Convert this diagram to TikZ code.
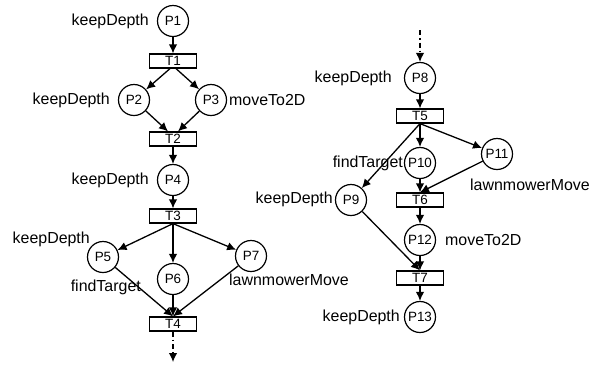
\documentclass[tikz,border=0pt]{standalone}
\usepackage{fontspec}
\setmainfont{Liberation Sans}
\usetikzlibrary{arrows.meta}
\begin{document}
\begin{tikzpicture}[x=1bp,y=-1bp,
  place/.style={circle, draw, minimum size=31bp, inner sep=0pt, line width=1.2bp,
                font=\fontsize{13.5}{14}\selectfont},
  trans/.style={draw, rectangle, minimum width=47bp, minimum height=14bp, inner sep=0pt,
                line width=1.2bp, font=\fontsize{13.5}{14}\selectfont},
  lbl/.style={font=\fontsize{16}{17}\selectfont, inner sep=0pt},
  arc/.style={-{Latex[length=9bp,width=8.5bp]}, line width=1.3bp},
  dasharc/.style={arc, dash pattern=on 5bp off 3bp on 1.5bp off 3bp}]
\useasboundingbox (0,0) rectangle (590,366);

% left net
\node[place] (P1) at (173,21) {P1};
\node[trans] (T1) at (173,61) {T1};
\node[place] (P2) at (134,100) {P2};
\node[place] (P3) at (211,100) {P3};
\node[trans] (T2) at (173,139) {T2};
\node[place] (P4) at (173,180) {P4};
\node[trans] (T3) at (173,216) {T3};
\node[place] (P5) at (103,257) {P5};
\node[place] (P6) at (173,279) {P6};
\node[place] (P7) at (251,256) {P7};
\node[trans] (T4) at (173,324) {T4};
\coordinate (out4) at (173,362);

\node[lbl, anchor=east] (l1) at (149,21) {keepDepth};
\node[lbl, anchor=east] (l2) at (110,100) {keepDepth};
\node[lbl, anchor=west] (l3) at (229,100) {moveTo2D};
\node[lbl, anchor=east] (l4) at (149,180) {keepDepth};
\node[lbl, anchor=east] (l5) at (90,239) {keepDepth};
\node[lbl, anchor=east] (l6) at (141,287) {findTarget};
\node[lbl, anchor=west] (l7) at (229,280) {lawnmowerMove};

\draw[arc] (P1) -- (T1);
\draw[arc] ([xshift=-3bp]T1.south) -- (P2);
\draw[arc] ([xshift=3bp]T1.south) -- (P3);
\draw[arc] (P2) -- ([xshift=-5bp]T2.north);
\draw[arc] (P3) -- ([xshift=5bp]T2.north);
\draw[arc] (T2) -- (P4);
\draw[arc] (P4) -- (T3);
\draw[arc] (T3.south) -- (P5);
\draw[arc] (T3.south) -- (P6);
\draw[arc] (T3.south) -- (P7);
\draw[arc] (P5) -- (T4.north);
\draw[arc] (P6) -- (T4.north);
\draw[arc] (P7) -- (T4.north);
\draw[dasharc] (T4) -- (out4);

% right net
\coordinate (in8) at (420,30);
\node[place] (P8) at (420,78) {P8};
\node[trans] (T5) at (420,116) {T5};
\node[place] (P9) at (351,200) {P9};
\node[place] (P10) at (420,163) {P10};
\node[place] (P11) at (497,154) {P11};
\node[trans] (T6) at (420,200) {T6};
\node[place] (P12) at (420,240) {P12};
\node[trans] (T7) at (420,278) {T7};
\node[place] (P13) at (420,317) {P13};

\node[lbl, anchor=east] (r8) at (392,78) {keepDepth};
\node[lbl, anchor=east] (r10) at (403,163) {findTarget};
\node[lbl, anchor=west] (r11) at (470,185) {lawnmowerMove};
\node[lbl, anchor=east] (r9) at (333,199) {keepDepth};
\node[lbl, anchor=west] (r12) at (445,240) {moveTo2D};
\node[lbl, anchor=east] (r13) at (400,317) {keepDepth};

\draw[dasharc] (in8) -- (P8);
\draw[arc] (P8) -- (T5);
\draw[arc] (T5.south) -- (P9);
\draw[arc] (T5.south) -- (P10);
\draw[arc] (T5.south) -- (P11);
\draw[arc] (P10) -- (T6.north);
\draw[arc] (P11) -- (T6.north);
\draw[arc] (T6) -- (P12);
\draw[arc] (P12) -- (T7.north);
\draw[arc] (P9) -- (T7.north);
\draw[arc] (T7) -- (P13);
\end{tikzpicture}
\end{document}
